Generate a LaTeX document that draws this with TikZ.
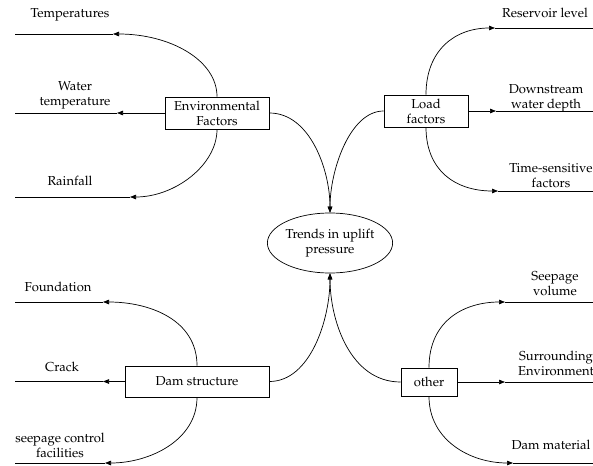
\documentclass[tikz,border=0pt]{standalone}
\usepackage[T1]{fontenc}
\usepackage{mathpazo}
\usetikzlibrary{arrows.meta,shapes.geometric}

\begin{document}
\begin{tikzpicture}[x=1pt,y=-1pt,line width=0.7pt,>={Triangle[length=6pt,width=4.5pt]},
  every node/.style={font=\fontsize{13}{15}\selectfont,align=center},
  factor/.style={draw,rectangle,inner sep=0pt,line width=0.8pt},
  target/.style={draw,ellipse,inner sep=0pt,minimum width=123pt,minimum height=60pt},
  lbl/.style={inner sep=0pt}]
\useasboundingbox (0,0) rectangle (593,465);
% ================ 中心与四个因素框 ================
\node[target] (trend) at (330,243) {Trends in uplift\\pressure};
\node[factor,minimum width=104pt,minimum height=32pt] (env) at (217,113) {Environmental\\Factors};
\node[factor,minimum width=84pt,minimum height=32pt] (load) at (426,111) {Load\\factors};
\node[factor,minimum width=144pt,minimum height=31pt] (dam) at (197,381.5) {Dam structure};
\node[factor,minimum width=56pt,minimum height=28pt] (other) at (429,382) {other};
% 汇入中心
\draw[->] (env.east) .. controls (310,113) and (330,170) .. (trend.north);
\draw[->] (load.west) .. controls (350,111) and (330,170) .. (trend.north);
\draw[->] (dam.east) .. controls (310,381.5) and (330,320) .. (trend.south);
\draw[->] (other.west) .. controls (350,382) and (330,320) .. (trend.south);
% ================ 左上：环境因素 ================
\coordinate (tmpA) at (113,34);    \coordinate (tmpE) at (15,34);
\coordinate (watA) at (117,113);   \coordinate (watE) at (15,113);
\coordinate (rainA) at (130,197);  \coordinate (rainE) at (15,197);
\draw[->] (env.north) .. controls (217,60) and (170,34) .. (tmpA);
\draw (tmpA) -- (tmpE);
\draw[->] (env.west) -- (watA);
\draw (watA) -- (watE);
\draw[->] (env.south) .. controls (217,165) and (175,197) .. (rainA);
\draw (rainA) -- (rainE);
\node[lbl] (tmpL) at (70,15) {Temperatures};
\node[lbl] (watL) at (75,95) {Water\\temperature};
\node[lbl] (rainL) at (70,181) {Rainfall};
% ================ 右上：荷载因素 ================
\coordinate (resA) at (495,28);    \coordinate (resE) at (593,28);
\coordinate (dwnA) at (496,111);   \coordinate (dwnE) at (593,111);
\coordinate (timA) at (498,191);   \coordinate (timE) at (593,191);
\draw[->] (load.north) .. controls (426,50) and (455,28) .. (resA);
\draw (resA) -- (resE);
\draw[->] (load.east) -- (dwnA);
\draw (dwnA) -- (dwnE);
\draw[->] (load.south) .. controls (426,170) and (455,191) .. (timA);
\draw (timA) -- (timE);
\node[lbl] (resL) at (545,13) {Reservoir level};
\node[lbl] (dwnL) at (546,98) {Downstream\\water depth};
\node[lbl] (timL) at (551,176) {Time-sensitive\\factors};
% ================ 左下：坝体结构 ================
\coordinate (fndA) at (103,302);   \coordinate (fndE) at (15,302);
\coordinate (crkA) at (103,381.5); \coordinate (crkE) at (15,381.5);
\coordinate (secA) at (105,463);   \coordinate (secE) at (15,463);
\draw[->] (dam.north) .. controls (197,320) and (150,302) .. (fndA);
\draw (fndA) -- (fndE);
\draw[->] (dam.west) -- (crkA);
\draw (crkA) -- (crkE);
\draw[->] (dam.south) .. controls (197,440) and (150,463) .. (secA);
\draw (secA) -- (secE);
\node[lbl] (fndL) at (58,287) {Foundation};
\node[lbl] (crkL) at (62,367) {Crack};
\node[lbl] (secL) at (60,445) {seepage control\\facilities};
% ================ 右下：其他 ================
\coordinate (svA) at (505,302);    \coordinate (svE) at (593,302);
\coordinate (surA) at (505,382);   \coordinate (surE) at (593,382);
\coordinate (dmA) at (513,463);    \coordinate (dmE) at (593,463);
\draw[->] (other.north) .. controls (429,320) and (465,302) .. (svA);
\draw (svA) -- (svE);
\draw[->] (other.east) -- (surA);
\draw (surA) -- (surE);
\draw[->] (other.south) .. controls (429,440) and (470,463) .. (dmA);
\draw (dmA) -- (dmE);
\node[lbl] (svL) at (555,284) {Seepage\\volume};
\node[lbl] (surL) at (556,363) {Surrounding\\Environment};
\node[lbl] (dmL) at (551,445) {Dam material};
\end{tikzpicture}
\end{document}
